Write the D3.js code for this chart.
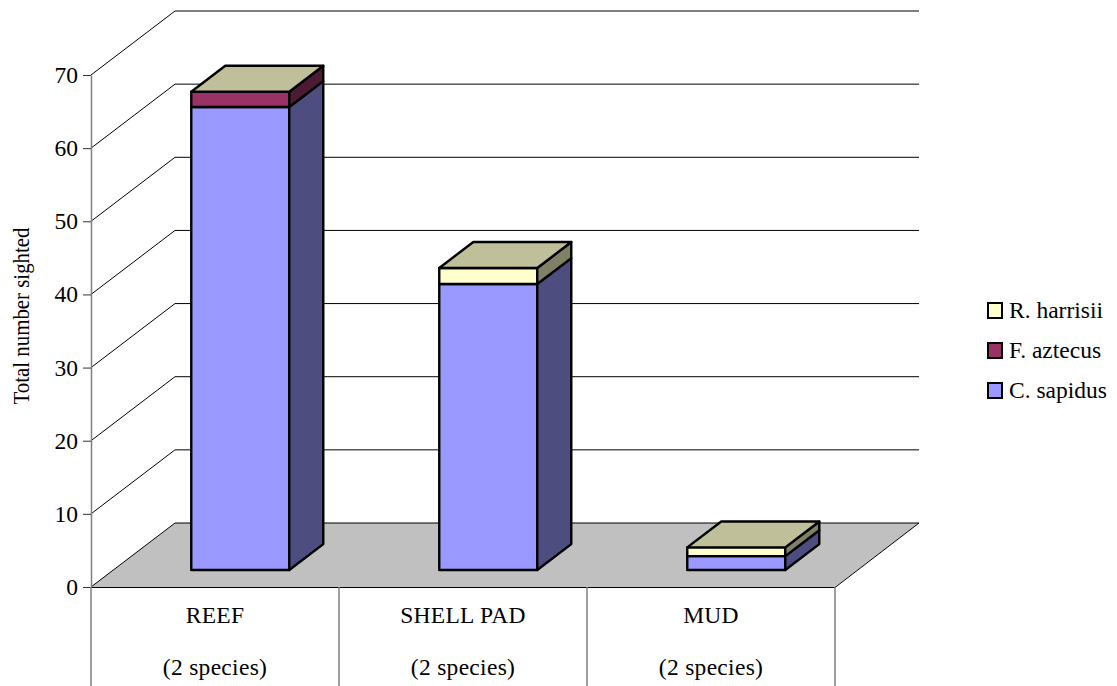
<!DOCTYPE html>
<html>
<head>
<meta charset="utf-8">
<script src="https://cdn.jsdelivr.net/npm/d3@7"></script>
<style>
  html, body { margin: 0; padding: 0; background: #fff; }
  text { font-family: "Liberation Serif", serif; font-size: 23.5px; fill: #000; }
</style>
</head>
<body>
<div id="chart"></div>
<script>
// Data
const categories = ["REEF", "SHELL PAD", "MUD"];
const subLabels = ["(2 species)", "(2 species)", "(2 species)"];
const speciesNames = ["C. sapidus", "F. aztecus", "R. harrisii"];
const sapidus = [63.3, 39.1, 1.9];
const aztecus = [2.1, 0, 0];
const harrisii = [0, 2.2, 1.2];
const yTicks = [0, 10, 20, 30, 40, 50, 60, 70];

const fronts = ["#9999FF", "#993366", "#FFFFCC"];
const sides = ["#4D4D80", "#4D1A33", "#808066"];
const topColor = "#BFBF99";

const width = 1117;
const height = 686;

const svg = d3.select("#chart").append("svg")
    .attr("width", width)
    .attr("height", height)
    .style("display", "block");

// Scales: the front plane, then depth as an oblique offset
const x = d3.scaleBand().domain(categories).range([91, 835]);
const y = d3.scaleLinear().domain([0, 70]).range([587, 75]);
const depthX = d3.scaleLinear().domain([0, 1]).range([0, 84]);
const depthY = d3.scaleLinear().domain([0, 1]).range([0, -64]);

const pt = (px, py, z) => [px + depthX(z), py + depthY(z)];
const poly = pts => "M" + pts.map(p => p.join(",")).join("L") + "Z";

const left = x.range()[0], right = x.range()[1];

// Floor
svg.append("path")
    .attr("d", poly([pt(left, y(0), 0), pt(left, y(0), 1), pt(right, y(0), 1), pt(right, y(0), 0)]))
    .attr("fill", "#C0C0C0");

// Gridlines: side wall and back wall
const grid = svg.append("g").attr("stroke", "#000").attr("stroke-width", 1).attr("fill", "none");
yTicks.forEach(t => {
    const a = pt(left, y(t), 0), b = pt(left, y(t), 1), c = pt(right, y(t), 1);
    grid.append("path").attr("d", `M${a}L${b}L${c}`);
});
const fa = pt(right, y(0), 0), fb = pt(right, y(0), 1);
grid.append("path").attr("d", `M${left},${y(0) + 0.5}L${fa[0]},${y(0) + 0.5}L${fb}`);

// Value axis
const axis = svg.append("g")
    .attr("transform", `translate(${left},0)`)
    .call(d3.axisLeft(y).tickValues(yTicks).tickSize(8).tickSizeOuter(0).tickPadding(5));
axis.select(".domain").attr("stroke", "#808080").attr("stroke-width", 1.5);
axis.selectAll(".tick line").attr("stroke", "#333");
axis.selectAll("text").style("font-family", "Liberation Serif").style("font-size", "23.5px");

// Category dividers and labels
const dividers = [left].concat(categories.map(c => x(c) + x.bandwidth()));
svg.append("g").selectAll("line").data(dividers).enter().append("line")
    .attr("x1", d => d).attr("x2", d => d)
    .attr("y1", y(0)).attr("y2", height)
    .attr("stroke", "#808080").attr("stroke-width", 1.5);

svg.append("g").selectAll("text").data(categories).enter().append("text")
    .attr("x", d => x(d) + x.bandwidth() / 2)
    .attr("y", 623)
    .attr("text-anchor", "middle")
    .style("letter-spacing", "0.3px")
    .text(d => d);
svg.append("g").selectAll("text").data(subLabels).enter().append("text")
    .attr("x", (d, i) => x(categories[i]) + x.bandwidth() / 2)
    .attr("y", 675)
    .attr("text-anchor", "middle")
    .style("letter-spacing", "0.3px")
    .text(d => d);

// Stacked 3D bars
const rows = categories.map((c, i) => ({ cat: c, a: sapidus[i], b: aztecus[i], c: harrisii[i] }));
const stacked = d3.stack().keys(["a", "b", "c"])(rows);

const barW = 98, zFront = 0.265, zBack = 0.67;
const barG = svg.append("g").attr("stroke", "#000").attr("stroke-width", 2.4).attr("stroke-linejoin", "round");
categories.forEach((cat, i) => {
    const x0 = x(cat) + x.bandwidth() / 2 + 3 - barW / 2;
    const x1 = x0 + barW;
    const base = v => y(v);
    stacked.forEach((layer, k) => {
        const [v0, v1] = layer[i];
        if (v1 === v0) return;
        barG.append("path")
            .attr("d", poly([pt(x0, base(v0), zFront), pt(x1, base(v0), zFront), pt(x1, base(v1), zFront), pt(x0, base(v1), zFront)]))
            .attr("fill", fronts[k]);
        barG.append("path")
            .attr("d", poly([pt(x1, base(v0), zFront), pt(x1, base(v0), zBack), pt(x1, base(v1), zBack), pt(x1, base(v1), zFront)]))
            .attr("fill", sides[k]);
    });
    const t = stacked[2][i][1];
    barG.append("path")
        .attr("d", poly([pt(x0, base(t), zFront), pt(x1, base(t), zFront), pt(x1, base(t), zBack), pt(x0, base(t), zBack)]))
        .attr("fill", topColor);
});

// Y axis title
svg.append("text")
    .attr("transform", "translate(29,316) rotate(-90)")
    .attr("text-anchor", "middle")
    .attr("textLength", 177)
    .attr("lengthAdjust", "spacingAndGlyphs")
    .style("font-size", "22.5px")
    .text("Total number sighted");

// Legend, listed top to bottom in reverse stack order
const legendRows = d3.range(speciesNames.length).reverse();
const legendY = d3.scalePoint().domain(legendRows).range([311, 391]);
const legend = svg.append("g").selectAll("g").data(legendRows).enter().append("g")
    .attr("transform", k => `translate(988,${legendY(k)})`);
legend.append("rect")
    .attr("x", 0).attr("y", -8).attr("width", 14).attr("height", 15)
    .attr("fill", k => fronts[k]).attr("stroke", "#000").attr("stroke-width", 2);
legend.append("text")
    .attr("x", 21).attr("y", 7)
    .text(k => speciesNames[k]);
</script>
</body>
</html>
